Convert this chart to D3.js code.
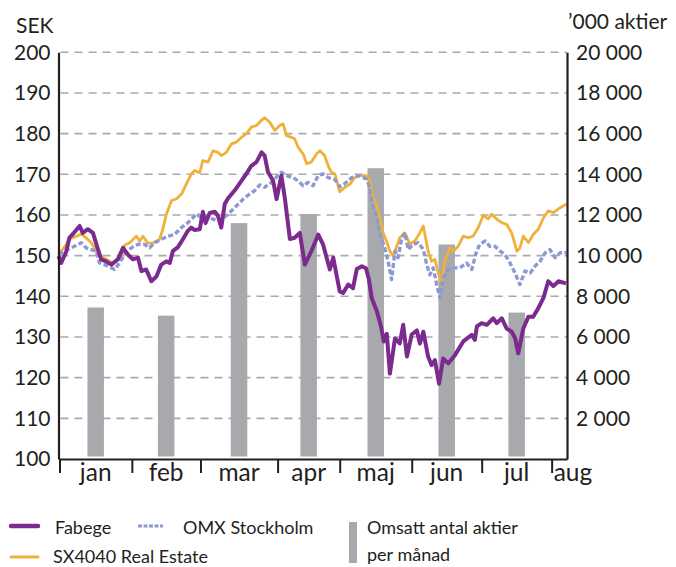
<!DOCTYPE html>
<html>
<head>
<meta charset="utf-8">
<script src="https://cdn.jsdelivr.net/npm/d3@7"></script>
<style>
  body { margin: 0; background: #fff; }
  svg { display: block; }
  text { font-family: Lato, "Open Sans", sans-serif; fill: #231f20; }
</style>
</head>
<body>
<div id="kurs"></div>
<script>
/* les mois et le début de chaque mois, en jours de bourse */
const months = ["jan", "feb", "mar", "apr", "maj", "jun", "jul", "aug"];
const month_start = [0.3, 21.5, 41.6, 64.2, 82.4, 103.5, 124.0, 144.5];
const last_day = 149;

/* omsatt antal aktier per månad ('000 aktier) */
const volume = [7450, 7050, 11600, 12050, 14300, 10550, 7200];

/* graduations des deux axes */
const sek_ticks = [100, 110, 120, 130, 140, 150, 160, 170, 180, 190, 200];
const volume_ticks = [2000, 4000, 6000, 8000, 10000, 12000, 14000, 16000, 18000, 20000];

/* cours, [jour de bourse, SEK] */
const fabege = [
  [0, 149.9], [0.8, 148.2], [2.3, 151.1], [3.2, 154.4], [4.7, 155.8], [6.2, 157.3], [7.1, 155.6],
  [8.6, 156.5], [10.1, 155.6], [11.1, 152.8], [12.5, 149.1], [14.0, 148.6], [15.5, 147.8],
  [17.4, 149.1], [18.9, 151.9], [20.3, 150.3], [21.8, 149.1], [23.3, 149.5], [24.3, 146.2],
  [25.7, 146.6], [27.2, 143.7], [28.7, 144.9], [30.1, 147.8], [31.6, 148.6], [32.6, 148.2],
  [33.5, 151.1], [35.0, 152.1], [36.5, 154.1], [37.9, 156.1], [38.9, 156.9], [39.9, 156.3],
  [41.4, 156.5], [42.3, 160.8], [43.1, 158.0], [44.3, 160.5], [45.8, 160.8], [46.7, 159.8],
  [47.7, 156.9], [48.7, 162.7], [49.7, 164.1], [51.6, 166.0], [53.6, 168.4], [55.1, 170.2],
  [56.5, 172.1], [58.0, 173.0], [59.5, 175.4], [60.4, 174.6], [61.4, 170.5], [62.9, 168.4],
  [63.9, 163.9], [65.3, 169.7], [66.3, 164.3], [67.8, 154.1], [69.2, 154.4], [70.7, 155.6],
  [72.2, 147.8], [74.1, 151.1], [76.1, 155.2], [77.5, 152.8], [79.5, 146.6], [80.5, 149.5],
  [82.4, 141.2], [83.4, 140.8], [84.9, 142.9], [86.3, 142.0], [87.4, 146.7], [88.9, 147.4],
  [90.1, 146.9], [90.9, 144.4], [91.8, 139.5], [93.3, 136.3], [94.5, 132.6], [95.3, 128.9],
  [96.2, 130.8], [97.1, 121.0], [98.6, 129.7], [100.0, 128.4], [101.0, 133.0], [102.1, 125.2],
  [103.5, 130.6], [105.0, 131.6], [105.9, 128.4], [106.9, 131.3], [108.3, 125.2], [109.3, 123.1],
  [110.3, 124.3], [111.5, 118.5], [112.7, 124.7], [114.2, 123.5], [116.2, 125.6], [118.6, 128.9],
  [121.1, 130.5], [122.0, 129.3], [122.6, 132.6], [124.0, 133.4], [125.5, 133.0], [127.4, 134.6],
  [128.4, 133.4], [129.9, 134.6], [131.3, 132.1], [132.8, 131.3], [133.8, 129.7], [134.7, 126.0],
  [136.2, 132.1], [137.7, 135.0], [139.1, 135.0], [140.6, 137.1], [142.1, 139.6], [143.5, 143.7],
  [145.0, 142.5], [146.5, 143.7], [148.7, 143.2]
];

const sx4040 = [
  [0, 150.1], [2.3, 152.8], [3.2, 154.1], [5.3, 154.8], [6.7, 155.3], [8.2, 154.3], [9.6, 153.2],
  [11.1, 151.1], [12.5, 149.9], [14.0, 149.1], [15.9, 148.2], [18.4, 149.5], [19.4, 152.6],
  [20.8, 153.1], [22.8, 154.8], [23.8, 153.6], [24.7, 154.8], [26.2, 153.1], [27.7, 153.1],
  [29.6, 154.0], [30.6, 156.6], [31.6, 160.2], [33.1, 163.5], [34.6, 164.0], [36.1, 165.2],
  [37.5, 167.7], [39.0, 170.2], [39.9, 170.9], [41.4, 170.4], [42.3, 173.4], [43.8, 173.0],
  [45.3, 175.8], [46.7, 175.4], [47.7, 174.6], [49.2, 175.4], [50.7, 177.5], [52.1, 177.9],
  [53.6, 179.1], [55.1, 180.0], [56.5, 181.6], [58.0, 182.0], [59.5, 183.3], [60.4, 183.9],
  [61.9, 182.8], [63.4, 180.8], [64.8, 182.0], [65.8, 182.4], [66.8, 179.5], [68.3, 179.1],
  [69.2, 178.7], [70.2, 176.7], [71.7, 175.0], [72.7, 172.6], [74.1, 173.0], [75.6, 175.0],
  [76.6, 175.8], [78.0, 174.6], [79.0, 172.1], [80.0, 170.5], [81.0, 170.1], [82.4, 165.7],
  [83.9, 166.8], [85.4, 167.6], [86.8, 169.2], [88.3, 169.7], [90.3, 169.7], [91.2, 168.4],
  [92.2, 164.3], [93.2, 162.2], [94.2, 159.0], [95.1, 155.6], [96.1, 153.6], [97.1, 151.1],
  [98.1, 149.9], [99.1, 152.3], [100.0, 154.4], [101.5, 155.6], [103.0, 152.8], [104.4, 153.6],
  [105.9, 155.6], [106.9, 157.3], [108.3, 151.1], [109.3, 148.6], [110.3, 149.1], [111.3, 145.7],
  [112.3, 142.9], [113.2, 148.6], [114.7, 151.9], [115.7, 151.1], [117.1, 152.3], [118.6, 154.8],
  [120.1, 154.4], [121.5, 154.8], [123.0, 156.9], [124.5, 160.0], [125.9, 159.0], [126.9, 160.2],
  [128.4, 159.0], [129.9, 158.1], [131.3, 157.7], [132.8, 155.6], [134.3, 151.1], [135.2, 151.9],
  [136.2, 154.8], [137.7, 153.2], [139.1, 155.2], [140.6, 156.5], [142.1, 159.3], [143.5, 161.0],
  [145.0, 160.6], [147.0, 161.8], [148.9, 162.7]
];

const omx = [
  [0, 150.3], [2.7, 151.5], [4.7, 152.3], [6.7, 153.2], [8.1, 151.9], [9.6, 151.5], [11.1, 151.1],
  [12.0, 148.2], [13.5, 147.8], [15.5, 147.0], [16.4, 146.6], [17.9, 148.2], [19.4, 150.3],
  [21.3, 151.9], [23.3, 152.8], [25.2, 152.8], [26.7, 151.9], [28.2, 153.2], [30.1, 154.0],
  [32.1, 154.8], [34.0, 155.2], [36.0, 156.9], [37.9, 158.1], [39.0, 159.0], [40.5, 160.3],
  [41.9, 159.3], [43.4, 159.3], [45.2, 159.0], [47.2, 158.5], [49.7, 160.2], [51.6, 161.8],
  [54.6, 164.3], [57.5, 166.0], [59.0, 167.4], [60.4, 166.8], [62.4, 168.0], [64.3, 169.7],
  [65.3, 170.5], [66.8, 169.7], [68.7, 169.2], [70.2, 168.4], [71.7, 167.2], [73.1, 168.0],
  [74.6, 167.2], [76.1, 169.7], [77.5, 170.1], [79.0, 169.2], [81.0, 168.7], [82.4, 166.9],
  [83.9, 167.7], [85.9, 169.2], [88.3, 169.7], [90.3, 168.8], [91.2, 166.8], [92.2, 161.8],
  [93.2, 159.8], [94.2, 155.2], [95.6, 151.9], [96.6, 148.6], [97.6, 144.1], [98.6, 151.1],
  [99.5, 149.5], [100.5, 154.0], [101.5, 155.6], [102.5, 151.5], [103.9, 152.8], [105.4, 153.2],
  [106.9, 151.5], [107.9, 147.8], [108.8, 145.3], [109.8, 147.0], [110.8, 142.9], [111.8, 139.6],
  [112.7, 144.5], [114.2, 146.6], [115.7, 147.0], [117.6, 147.0], [119.6, 148.2], [121.1, 146.6],
  [122.5, 151.1], [123.5, 152.8], [125.0, 153.6], [126.4, 152.3], [127.9, 152.3], [129.4, 151.1],
  [130.8, 150.3], [132.3, 148.2], [133.8, 145.7], [135.2, 142.9], [136.7, 146.2], [138.2, 145.7],
  [139.6, 147.4], [141.1, 148.6], [142.6, 150.7], [144.0, 151.5], [145.5, 149.5], [147.0, 150.7],
  [148.9, 150.7]
];

/* dimensions et couleurs */
const width = 676;
const height = 567;
const plot = {left: 58.5, right: 567, top: 52.3, bottom: 459};
const purple = "#7b2a8e";
const orange = "#efb13a";
const blue = "#8c99d2";
const grey = "#a7a9ac";
const ink = "#231f20";

const svg = d3.select("#kurs").append("svg")
    .attr("width", width)
    .attr("height", height)
    .attr("viewBox", [0, 0, width, height]);

/* échelles */
const x = d3.scaleLinear().domain([0, last_day]).range([plot.left, plot.right]);
const y = d3.scaleLinear().domain([100, 200]).range([plot.bottom, plot.top]);
const y_vol = d3.scaleLinear().domain([0, 20000]).range([plot.bottom, plot.top]);

/* lignes de grille pointillées */
svg.append("g")
    .attr("stroke", grey)
    .attr("stroke-width", 1.6)
    .attr("stroke-dasharray", "8,6")
  .selectAll("line")
  .data(sek_ticks.filter(d => d > 100))
  .join("line")
    .attr("x1", plot.left + 2)
    .attr("x2", plot.right)
    .attr("y1", d => y(d))
    .attr("y2", d => y(d));

/* barres de volume, au milieu de chaque mois */
const month_mid = volume.map((v, i) => (month_start[i] + month_start[i + 1]) / 2);
const bar_width = 16.5;

svg.append("g")
    .attr("fill", grey)
  .selectAll("rect")
  .data(volume)
  .join("rect")
    .attr("x", (d, i) => x(month_mid[i]) - bar_width / 2)
    .attr("y", d => y_vol(d))
    .attr("width", bar_width)
    .attr("height", d => y_vol(0) - 2.5 - y_vol(d));

/* les trois courbes */
const line = d3.line()
    .x(d => x(d[0]))
    .y(d => y(d[1]));

svg.append("path")
    .datum(sx4040)
    .attr("fill", "none")
    .attr("stroke", orange)
    .attr("stroke-width", 2.8)
    .attr("stroke-linejoin", "round")
    .attr("d", line);

svg.append("path")
    .datum(omx)
    .attr("fill", "none")
    .attr("stroke", blue)
    .attr("stroke-width", 3.4)
    .attr("stroke-dasharray", "5,2.5")
    .attr("stroke-linejoin", "round")
    .attr("d", line);

svg.append("path")
    .datum(fabege)
    .attr("fill", "none")
    .attr("stroke", purple)
    .attr("stroke-width", 4)
    .attr("stroke-linejoin", "round")
    .attr("d", line);

/* axes */
const left_axis = svg.append("g")
    .attr("transform", `translate(${plot.left},0)`)
    .call(d3.axisLeft(y).tickValues(sek_ticks).tickSize(0).tickPadding(8));

const right_axis = svg.append("g")
    .attr("transform", `translate(${plot.right},0)`)
    .call(d3.axisRight(y_vol)
      .tickValues(volume_ticks)
      .tickSize(0)
      .tickPadding(9)
      .tickFormat(d => d3.format(",")(d).replace(",", " ")));

const bottom_axis = svg.append("g")
    .attr("transform", `translate(0,${plot.bottom})`)
    .call(d3.axisBottom(x).tickValues(month_start).tickSize(14).tickSizeOuter(0).tickFormat(""));

[left_axis, right_axis, bottom_axis].forEach(g => {
  g.select(".domain").attr("stroke", ink).attr("stroke-width", 2.2);
  g.selectAll(".tick line").attr("stroke", ink).attr("stroke-width", 2);
  g.selectAll("text")
      .attr("font-family", "Lato, 'Open Sans', sans-serif")
      .attr("font-size", 21)
      .attr("fill", ink);
});

/* noms des mois, centrés entre les traits (aug après le dernier) */
svg.append("g")
    .attr("font-size", 24.5)
  .selectAll("text")
  .data(months)
  .join("text")
    .attr("x", (d, i) => i < months.length - 1
      ? x((month_start[i] + month_start[i + 1]) / 2)
      : x(month_start[i]) + 2)
    .attr("y", 481)
    .attr("text-anchor", (d, i) => i < months.length - 1 ? "middle" : "start")
    .text(d => d);

/* titres des axes */
svg.append("text")
    .attr("x", 16)
    .attr("y", 33)
    .attr("font-size", 21)
    .text("SEK");

svg.append("text")
    .attr("x", 568)
    .attr("y", 29)
    .attr("font-size", 21)
    .text("’000 aktier");

/* légende */
const legend = svg.append("g").attr("font-size", 18);

legend.append("line")
    .attr("x1", 11).attr("x2", 38).attr("y1", 526).attr("y2", 526)
    .attr("stroke", purple).attr("stroke-width", 4.5).attr("stroke-linecap", "round");
legend.append("text").attr("x", 55).attr("y", 534).text("Fabege");

legend.append("line")
    .attr("x1", 138).attr("x2", 163).attr("y1", 526).attr("y2", 526)
    .attr("stroke", blue).attr("stroke-width", 3.2).attr("stroke-dasharray", "4,1.5");
legend.append("text").attr("x", 183).attr("y", 534).text("OMX Stockholm");

legend.append("line")
    .attr("x1", 11).attr("x2", 38).attr("y1", 557).attr("y2", 557)
    .attr("stroke", orange).attr("stroke-width", 3.2).attr("stroke-linecap", "round");
legend.append("text").attr("x", 53).attr("y", 563).text("SX4040 Real Estate");

legend.append("rect")
    .attr("x", 349).attr("y", 522).attr("width", 8).attr("height", 41)
    .attr("fill", grey);
legend.append("text").attr("x", 367).attr("y", 534).text("Omsatt antal aktier");
legend.append("text").attr("x", 367).attr("y", 561).text("per månad");
</script>
</body>
</html>
